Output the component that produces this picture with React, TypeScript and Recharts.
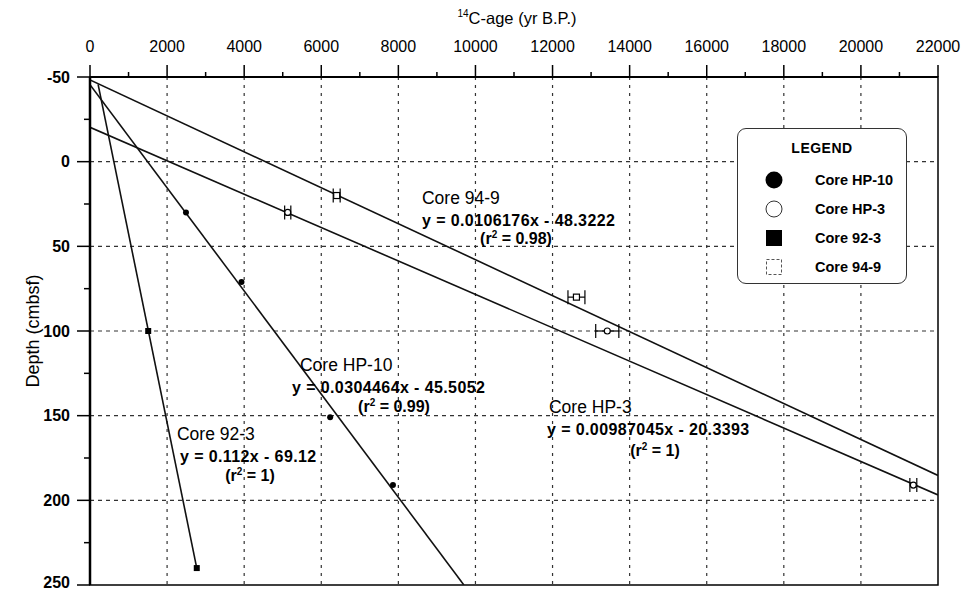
import {
  ComposedChart,
  XAxis,
  YAxis,
  Line,
  Scatter,
  ErrorBar,
  ReferenceLine,
  ReferenceArea,
  ReferenceDot,
} from "recharts";

// axis ticks (major + minor)
const ageTicks = [
  0, 1000, 2000, 3000, 4000, 5000, 6000, 7000, 8000, 9000, 10000, 11000,
  12000, 13000, 14000, 15000, 16000, 17000, 18000, 19000, 20000, 21000, 22000,
];
const depthTicks = [
  -50, -25, 0, 25, 50, 75, 100, 125, 150, 175, 200, 225, 250,
];
const ageGrid = [2000, 4000, 6000, 8000, 10000, 12000, 14000, 16000, 18000, 20000];
const depthGrid = [0, 50, 100, 150, 200];

// measured points (age, depth, age error)
const hp10Points = [
  { x: 2490, y: 30 },
  { x: 3930, y: 71 },
  { x: 6230, y: 151 },
  { x: 7860, y: 191 },
];
const hp3Points = [
  { x: 5130, y: 30, err: 80 },
  { x: 13420, y: 100, err: 300 },
  { x: 21360, y: 191, err: 90 },
];
const core923Points = [
  { x: 1510, y: 100 },
  { x: 2770, y: 240 },
];
const core949Points = [
  { x: 6400, y: 20, err: 90 },
  { x: 12620, y: 80, err: 220 },
];

// regression line end points
const hp10Fit = [
  { x: 0, y: -45.5 },
  { x: 9700, y: 250 },
];
const hp3Fit = [
  { x: 0, y: -20.3 },
  { x: 22000, y: 196.8 },
];
const core923Fit = [
  { x: 210, y: -45.6 },
  { x: 2770, y: 240 },
];
const core949Fit = [
  { x: 0, y: -48.3 },
  { x: 22000, y: 185.3 },
];

// annotation texts
const noteTitles = ["Core 94-9", "Core HP-10", "Core HP-3", "Core 92-3"];
const noteEquations = [
  "y = 0.0106176x - 48.3222",
  "y = 0.0304464x - 45.5052",
  "y = 0.00987045x - 20.3393",
  "y = 0.112x - 69.12",
];
const noteR2 = ["0.98", "0.99", "1", "1"];

// annotation placement (data units for anchor, pixels for offsets)
const noteAnchors = [
  { x: 8613, y: 21.4, eqDx: 0, r2Dx: 94, r2Dy: 40 },
  { x: 5448, y: 120.1, eqDx: -8, r2Dx: 94, r2Dy: 41 },
  { x: 11908, y: 144.9, eqDx: -2, r2Dx: 106, r2Dy: 43 },
  { x: 2257, y: 160.8, eqDx: 3, r2Dx: 73, r2Dy: 41 },
];

const legendNames = ["Core HP-10", "Core HP-3", "Core 92-3", "Core 94-9"];

const FONT = "'Liberation Sans', Arial, sans-serif";

function TopTick(props: any) {
  const { x, y, payload } = props;
  const axisY = y + 12;
  const major = payload.value % 2000 === 0;
  return (
    <g>
      <line x1={x} x2={x} y1={axisY} y2={axisY - (major ? 12 : 5)} stroke="#000" strokeWidth={1.5} />
      {major && (
        <text x={x} y={axisY - 25} textAnchor="middle" fontSize={16} fontFamily={FONT} fill="#000">
          {payload.value}
        </text>
      )}
    </g>
  );
}

function LeftTick(props: any) {
  const { x, y, payload } = props;
  const axisX = x + 13;
  const major = payload.value % 50 === 0;
  // keep the bottom label inside the picture
  const lift = payload.value === 250 ? -3 : 0;
  return (
    <g>
      <line x1={axisX - (major ? 13 : 6)} x2={axisX} y1={y} y2={y} stroke="#000" strokeWidth={1.5} />
      {major && (
        <text x={axisX - 20} y={y + lift} dy="0.35em" textAnchor="end" fontSize={16} fontWeight="bold" fontFamily={FONT} fill="#000">
          {payload.value}
        </text>
      )}
    </g>
  );
}

function Note({ cx, cy, i }: { cx: number; cy: number; i: number }) {
  const a = noteAnchors[i];
  return (
    <g fontFamily={FONT} fill="#000">
      <text x={cx} y={cy} dy="0.35em" fontSize={17.5}>
        {noteTitles[i]}
      </text>
      <text x={cx + a.eqDx} y={cy + 22} dy="0.35em" fontSize={16} fontWeight="bold" letterSpacing={0.4}>
        {noteEquations[i]}
      </text>
      <text x={cx + a.r2Dx} y={cy + a.r2Dy} dy="0.35em" fontSize={16} fontWeight="bold" textAnchor="middle">
        (r<tspan dy={-6} fontSize={10}>2</tspan>
        <tspan dy={6}> = {noteR2[i]})</tspan>
      </text>
    </g>
  );
}

const filledCircle = (p: any) => <circle cx={p.cx} cy={p.cy} r={3} fill="#000" />;
const openCircle = (p: any) => <circle cx={p.cx} cy={p.cy} r={3} fill="#fff" stroke="#000" strokeWidth={1.2} />;
const filledSquare = (p: any) => <rect x={p.cx - 3} y={p.cy - 3} width={6} height={6} fill="#000" />;
const openSquare = (p: any) => (
  <rect x={p.cx - 3} y={p.cy - 3} width={6} height={6} fill="#fff" stroke="#000" strokeWidth={1.2} />
);

function LegendSymbol({ i }: { i: number }) {
  return (
    <svg width={20} height={20}>
      {i === 0 && <circle cx={10} cy={10} r={8.5} fill="#000" />}
      {i === 1 && <circle cx={10} cy={10} r={8} fill="#fff" stroke="#333" strokeWidth={1} />}
      {i === 2 && <rect x={2} y={2} width={16} height={16} fill="#000" />}
      {i === 3 && <rect x={2.5} y={2.5} width={15} height={15} fill="#fff" stroke="#555" strokeWidth={1} strokeDasharray="3 2" />}
    </svg>
  );
}

export default function App() {
  return (
    <div style={{ position: "absolute", left: 0, top: 0, width: 964, height: 592, background: "#fff", fontFamily: FONT }}>
      <ComposedChart width={964} height={592} margin={{ top: 27, right: 26, bottom: 7, left: 0 }}>
        <XAxis
          type="number"
          dataKey="x"
          orientation="top"
          domain={[0, 22000]}
          ticks={ageTicks}
          interval={0}
          allowDataOverflow
          height={50}
          tickSize={12}
          tickMargin={0}
          tickLine={false}
          tick={<TopTick />}
          axisLine={{ stroke: "#000", strokeWidth: 2 }}
        />
        <YAxis
          type="number"
          dataKey="y"
          reversed
          domain={[-50, 250]}
          ticks={depthTicks}
          interval={0}
          allowDataOverflow
          width={90}
          tickSize={13}
          tickMargin={0}
          tickLine={false}
          tick={<LeftTick />}
          axisLine={{ stroke: "#000", strokeWidth: 2.5 }}
        />
        {ageGrid.map((v) => (
          <ReferenceLine key={"gx" + v} x={v} stroke="#333" strokeWidth={1.2} strokeDasharray="3 5" />
        ))}
        {depthGrid.map((v) => (
          <ReferenceLine key={"gy" + v} y={v} stroke="#333" strokeWidth={1.2} strokeDasharray="4 4" />
        ))}
        <ReferenceArea x1={0} x2={22000} y1={-50} y2={250} fill="none" stroke="#000" strokeWidth={1.5} />

        <Line data={core949Fit} dataKey="y" stroke="#111" strokeWidth={1.6} dot={false} isAnimationActive={false} />
        <Line data={hp3Fit} dataKey="y" stroke="#111" strokeWidth={1.6} dot={false} isAnimationActive={false} />
        <Line data={hp10Fit} dataKey="y" stroke="#111" strokeWidth={1.6} dot={false} isAnimationActive={false} />
        <Line data={core923Fit} dataKey="y" stroke="#111" strokeWidth={1.6} dot={false} isAnimationActive={false} />

        <Scatter data={hp10Points} dataKey="y" shape={filledCircle} isAnimationActive={false} />
        <Scatter data={core923Points} dataKey="y" shape={filledSquare} isAnimationActive={false} />
        <Scatter data={hp3Points} dataKey="y" shape={openCircle} isAnimationActive={false}>
          <ErrorBar dataKey="err" direction="x" width={7} stroke="#000" strokeWidth={1.2} />
        </Scatter>
        <Scatter data={core949Points} dataKey="y" shape={openSquare} isAnimationActive={false}>
          <ErrorBar dataKey="err" direction="x" width={7} stroke="#000" strokeWidth={1.2} />
        </Scatter>

        {noteAnchors.map((a, i) => (
          <ReferenceDot
            key={"n" + i}
            x={a.x}
            y={a.y}
            r={0}
            shape={(p: any) => <Note cx={p.cx} cy={p.cy} i={i} />}
          />
        ))}
      </ComposedChart>

      <div style={{ position: "absolute", left: 0, width: 964, top: 8, textAlign: "center", fontSize: 16.5, paddingLeft: 70, boxSizing: "border-box" }}>
        <sup style={{ fontSize: 10 }}>14</sup>C-age (yr B.P.)
      </div>
      <div
        style={{
          position: "absolute",
          left: 33,
          top: 331,
          fontSize: 18,
          transform: "translate(-50%, -50%) rotate(-90deg)",
          whiteSpace: "nowrap",
        }}
      >
        Depth (cmbsf)
      </div>

      <div
        style={{
          position: "absolute",
          left: 737,
          top: 128,
          width: 170,
          height: 156,
          boxSizing: "border-box",
          border: "1.5px solid #333",
          borderRadius: 9,
          background: "#fff",
        }}
      >
        <div style={{ textAlign: "center", fontWeight: "bold", fontSize: 14, marginTop: 11, letterSpacing: 0.5 }}>LEGEND</div>
        {legendNames.map((n, i) => (
          <div key={n} style={{ position: "absolute", left: 26, top: 41 + i * 29, display: "flex", alignItems: "center" }}>
            <LegendSymbol i={i} />
            <span style={{ marginLeft: 31, fontSize: 14.5, fontWeight: "bold" }}>{n}</span>
          </div>
        ))}
      </div>
    </div>
  );
}
